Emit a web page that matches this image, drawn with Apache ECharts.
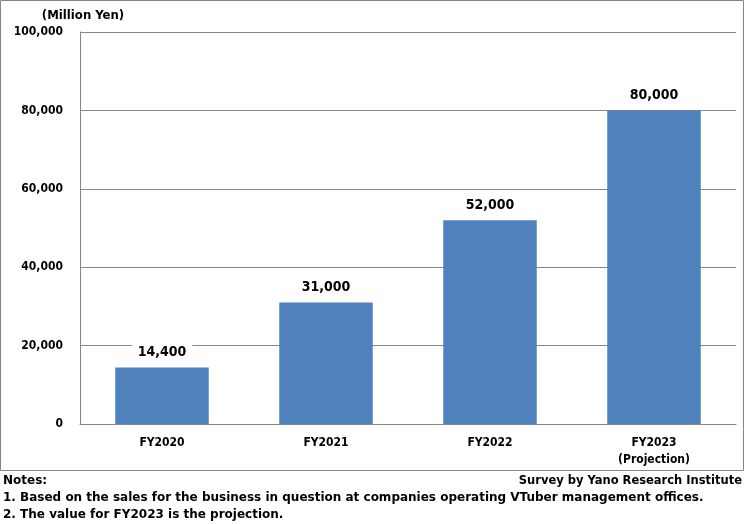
<!DOCTYPE html>
<html><head><meta charset="utf-8">
<script src="https://cdn.jsdelivr.net/npm/echarts@6/dist/echarts.min.js"></script>
<style>html,body{margin:0;padding:0;background:#fff}#c{width:745px;height:524px}</style>
</head><body><div id="c"></div>
<script>
const categories = ['FY2020', 'FY2021', 'FY2022', 'FY2023\n(Projection)'];
const values = [14400, 31000, 52000, 80000];
const yTicks = [0, 20000, 40000, 60000, 80000, 100000];
const unitLabel = '(Million Yen)';
const notes = ['Notes:', '1. Based on the sales for the business in question at companies operating VTuber management offices.', '2. The value for FY2023 is the projection.'];
const source = 'Survey by Yano Research Institute';

const F = '"DejaVu Sans Condensed", "DejaVu Sans", sans-serif';
const FN = '"DejaVu Sans", sans-serif';
const chart = echarts.init(document.getElementById('c'), null, {renderer: 'canvas'});
const fmt = v => v.toLocaleString('en-US');
chart.setOption({
  animation: false,
  grid: {left: 80, right: 9, top: 32, bottom: 100, containLabel: false},
  xAxis: {
    type: 'category', data: categories,
    axisLine: {lineStyle: {color: '#868686', width: 1}},
    axisTick: {show: false},
    axisLabel: {color: '#000', fontFamily: F, fontWeight: 'bold', fontSize: 12, margin: 10, lineHeight: 17}
  },
  yAxis: {
    type: 'value', min: yTicks[0], max: yTicks[yTicks.length - 1], interval: 20000,
    name: unitLabel, nameLocation: 'end', nameGap: 10,
    nameTextStyle: {color: '#000', fontFamily: F, fontWeight: 'bold', fontSize: 13, align: 'center', padding: [0, 0, 0, 6]},
    axisLine: {show: true, lineStyle: {color: '#868686'}},
    axisTick: {show: false},
    splitLine: {lineStyle: {color: '#868686', width: 1}},
    axisLabel: {color: '#000', fontFamily: F, fontWeight: 'bold', fontSize: 12, margin: 17, formatter: fmt}
  },
  series: [{
    type: 'bar', data: values, barWidth: '57%',
    itemStyle: {color: '#4F81BD'},
    label: {show: true, position: 'top', distance: 6, color: '#000', fontFamily: F, fontWeight: 'bold', fontSize: 14,
      backgroundColor: '#fff', padding: [2, 6], formatter: p => fmt(p.value)}
  }],
  graphic: [
    {type: 'rect', shape: {x: 0.5, y: 0.5, width: 743, height: 470}, style: {fill: 'none', stroke: '#868686', lineWidth: 1}, z: -1},
    {type: 'text', left: 3, top: 475, style: {text: notes[0], fill: '#000', font: 'bold 12px ' + FN}},
    {type: 'text', right: 3, top: 475, style: {text: source, fill: '#000', font: 'bold 11.5px ' + FN}},
    {type: 'text', left: 3, top: 492, style: {text: notes[1], fill: '#000', font: 'bold 12px ' + FN}},
    {type: 'text', left: 3, top: 509, style: {text: notes[2], fill: '#000', font: 'bold 12px ' + FN}}
  ]
});
</script></body></html>
